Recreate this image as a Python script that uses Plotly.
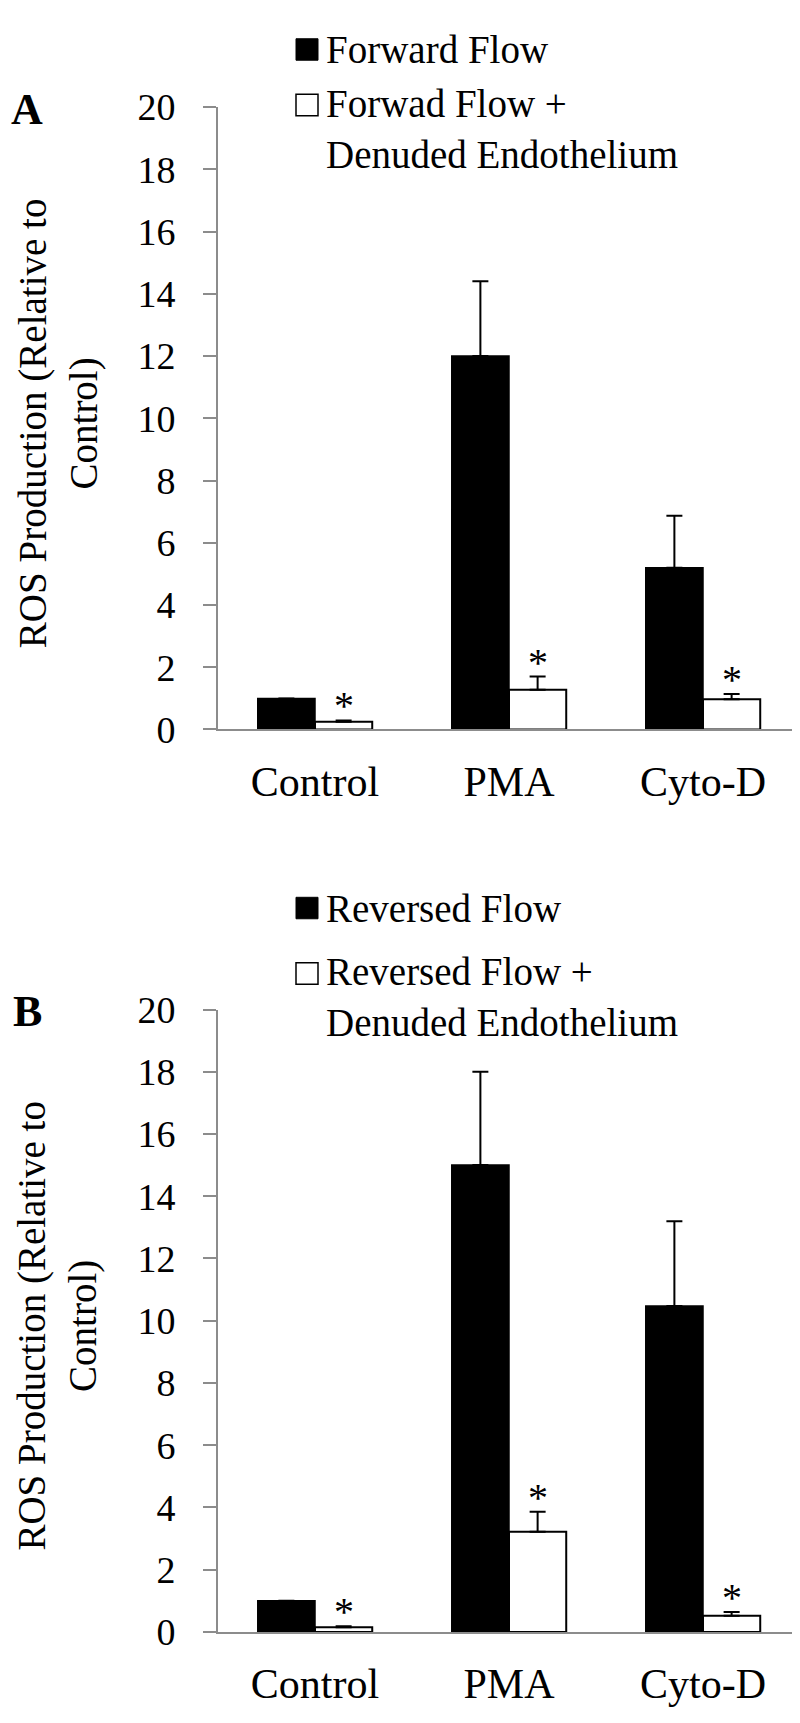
import plotly.graph_objects as go

# ---------------- data ----------------
categories = ["Control", "PMA", "Cyto-D"]

a_black = [1.0, 12.0, 5.2]
a_black_err = [0.0, 2.4, 1.67]
a_white = [0.25, 1.28, 0.97]
a_white_err = [0.04, 0.42, 0.17]

b_black = [1.0, 15.0, 10.47]
b_black_err = [0.0, 3.0, 2.73]
b_white = [0.15, 3.22, 0.52]
b_white_err = [0.03, 0.64, 0.12]

y_ticks = [0, 2, 4, 6, 8, 10, 12, 14, 16, 18, 20]
a_legend = ["Forward Flow", "Forwad Flow +<br>Denuded Endothelium"]
b_legend = ["Reversed Flow", "Reversed Flow +<br>Denuded Endothelium"]
y_title = "ROS Production (Relative to<br>Control)"
panel_labels = ["A", "B"]
sig_mark = "*"

# ---------------- layout helpers ----------------
W, H = 800, 1723
FONT = "Liberation Serif, Times New Roman, serif"
GRAY = "#8c8c8c"


def px(x):
    return x / W


def py(y):
    return 1 - y / H


BARGAP = 0.41
white_offset = (1 - BARGAP) / 4  # centre of second bar in a group

fig = go.Figure()

panels = [
    dict(black=a_black, black_err=a_black_err, white=a_white, white_err=a_white_err,
         legend=a_legend, xa="x", ya="y", top=80, bottom=718,
         leg=(21, 102), letter=panel_labels[0]),
    dict(black=b_black, black_err=b_black_err, white=b_white, white_err=b_white_err,
         legend=b_legend, xa="x2", ya="y2", top=1005, bottom=1643,
         leg=(901, 992), letter=panel_labels[1]),
]

annotations = []
shapes = []

for i, p in enumerate(panels):
    fig.add_trace(go.Bar(
        x=categories, y=p["black"], name=p["legend"][0], showlegend=False,
        marker=dict(color="black", line=dict(color="black", width=1.5)),
        error_y=dict(type="data", symmetric=False, array=p["black_err"],
                     arrayminus=[0] * len(categories), color="black",
                     thickness=2, width=8),
        xaxis=p["xa"], yaxis=p["ya"], offsetgroup="1",
    ))
    fig.add_trace(go.Bar(
        x=categories, y=p["white"], name=p["legend"][1], showlegend=False,
        marker=dict(color="white", line=dict(color="black", width=2)),
        error_y=dict(type="data", symmetric=False, array=p["white_err"],
                     arrayminus=[0] * len(categories), color="black",
                     thickness=2, width=8),
        xaxis=p["xa"], yaxis=p["ya"], offsetgroup="2",
    ))

    # significance asterisks above white bars
    for k in range(len(categories)):
        annotations.append(dict(
            x=k + white_offset, y=p["white"][k] + p["white_err"][k],
            xref=p["xa"], yref=p["ya"], text=sig_mark, showarrow=False,
            xanchor="center", yanchor="bottom", yshift=-10,
            font=dict(family=FONT, size=40, color="black"),
        ))

    # legend (manual)
    y1, y2 = p["leg"]
    shapes.append(dict(type="rect", xref="paper", yref="paper",
                       x0=px(288), x1=px(310), y0=py(y1 + 11), y1=py(y1 - 11),
                       fillcolor="black", line=dict(color="black", width=1)))
    annotations.append(dict(x=px(316), y=py(y1), xref="paper", yref="paper",
                            text=p["legend"][0], showarrow=False,
                            xanchor="left", yanchor="middle", align="left",
                            font=dict(family=FONT, size=39, color="black")))
    sq = y2 - 24
    shapes.append(dict(type="rect", xref="paper", yref="paper",
                       x0=px(288), x1=px(310), y0=py(sq + 11), y1=py(sq - 11),
                       fillcolor="white", line=dict(color="black", width=1.5)))
    annotations.append(dict(x=px(316), y=py(y2), xref="paper", yref="paper",
                            text=p["legend"][1], showarrow=False,
                            xanchor="left", yanchor="middle", align="left",
                            font=dict(family=FONT, size=39, color="black")))

    # y title
    annotations.append(dict(x=px(50), y=py((p["top"] + p["bottom"]) / 2 + 5),
                            xref="paper", yref="paper", text=y_title,
                            textangle=-90, showarrow=False,
                            xanchor="center", yanchor="middle",
                            font=dict(family=FONT, size=39, color="black")))
    # panel letter
    annotations.append(dict(x=px(19), y=py(p["top"] + 2), xref="paper", yref="paper",
                            text="<b>" + p["letter"] + "</b>", showarrow=False,
                            xanchor="center", yanchor="middle",
                            font=dict(family=FONT, size=44, color="black")))

xdom = [px(210), px(792)]
xaxis_common = dict(type="category", range=[-0.5, 2.5], showline=True,
                    linecolor=GRAY, linewidth=2, ticks="", showgrid=False,
                    zeroline=False, ticklabelstandoff=14,
                    tickfont=dict(family=FONT, size=42, color="black"),
                    fixedrange=True)
yaxis_common = dict(range=[0, 20], tickvals=y_ticks, showline=True,
                    linecolor=GRAY, linewidth=2, ticks="outside", ticklen=13,
                    tickcolor=GRAY, tickwidth=2, showgrid=False, zeroline=False,
                    ticklabelstandoff=20,
                    tickfont=dict(family=FONT, size=38, color="black"))

fig.update_layout(
    width=W, height=H,
    margin=dict(l=0, r=0, t=0, b=0),
    paper_bgcolor="white", plot_bgcolor="white",
    barmode="group", bargap=BARGAP, bargroupgap=0,
    showlegend=False,
    xaxis=dict(domain=xdom, anchor="y", **xaxis_common),
    yaxis=dict(domain=[py(panels[0]["bottom"]), py(panels[0]["top"])],
               anchor="x", **yaxis_common),
    xaxis2=dict(domain=xdom, anchor="y2", **xaxis_common),
    yaxis2=dict(domain=[py(panels[1]["bottom"]), py(panels[1]["top"])],
                anchor="x2", **yaxis_common),
    annotations=annotations,
    shapes=shapes,
)

fig.write_html("out.html")
